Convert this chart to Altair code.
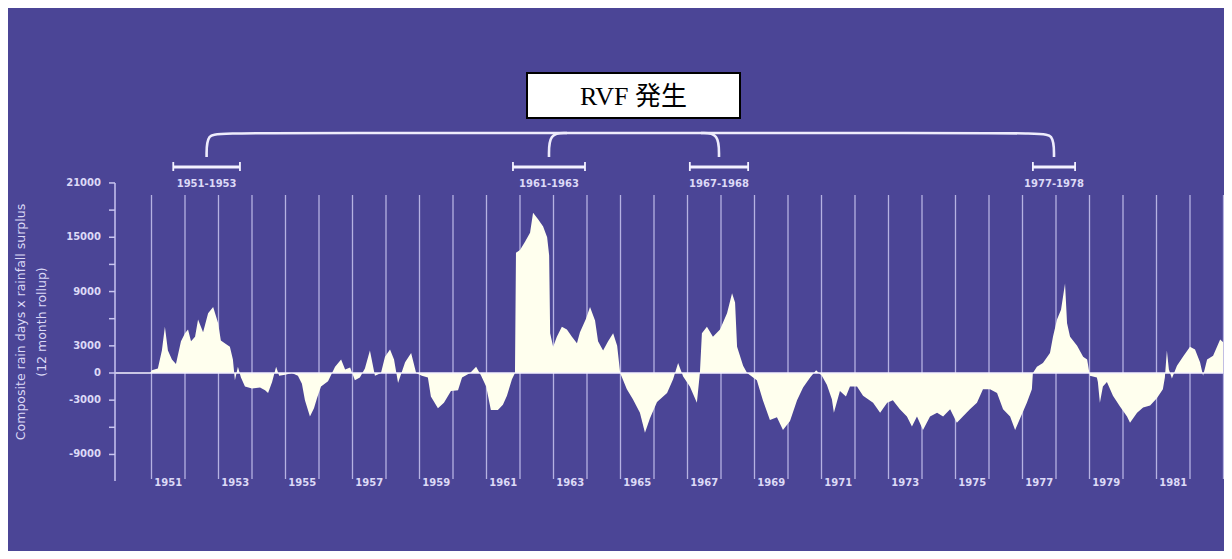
import altair as alt
import pandas as pd

# ---------------- data ----------------
years = [1950.00, 1950.96, 1951.01, 1951.19, 1951.31, 1951.40, 1951.49, 1951.61, 1951.73, 1951.88,
         1952.00, 1952.09, 1952.18, 1952.30, 1952.39, 1952.54, 1952.69, 1952.84, 1952.99, 1953.07,
         1953.22, 1953.34, 1953.43, 1953.49, 1953.58, 1953.67, 1953.79, 1954.00, 1954.24, 1954.39,
         1954.48, 1954.60, 1954.72, 1954.81, 1954.99, 1955.19, 1955.37, 1955.49, 1955.58, 1955.73,
         1955.85, 1955.94, 1956.06, 1956.27, 1956.48, 1956.66, 1956.78, 1956.93, 1957.07, 1957.22,
         1957.37, 1957.52, 1957.67, 1957.85, 1957.97, 1958.12, 1958.24, 1958.36, 1958.57, 1958.75,
         1958.90, 1959.07, 1959.25, 1959.34, 1959.55, 1959.73, 1959.94, 1960.15, 1960.27, 1960.51,
         1960.69, 1960.84, 1960.99, 1961.13, 1961.34, 1961.49, 1961.61, 1961.76, 1961.85, 1961.88,
         1962.00, 1962.15, 1962.30, 1962.39, 1962.54, 1962.69, 1962.81, 1962.87, 1962.90, 1962.99,
         1963.10, 1963.25, 1963.40, 1963.55, 1963.70, 1963.79, 1963.97, 1964.09, 1964.24, 1964.33,
         1964.48, 1964.63, 1964.78, 1964.90, 1964.99, 1965.19, 1965.37, 1965.58, 1965.73, 1965.88,
         1966.09, 1966.39, 1966.57, 1966.72, 1966.87, 1967.07, 1967.28, 1967.37, 1967.43, 1967.58,
         1967.76, 1967.97, 1968.18, 1968.33, 1968.42, 1968.48, 1968.66, 1968.78, 1969.07, 1969.25,
         1969.46, 1969.67, 1969.85, 1970.06, 1970.27, 1970.45, 1970.66, 1970.84, 1971.01, 1971.16,
         1971.31, 1971.37, 1971.55, 1971.73, 1971.85, 1972.06, 1972.24, 1972.54, 1972.75, 1972.96,
         1973.13, 1973.34, 1973.55, 1973.70, 1973.85, 1974.03, 1974.24, 1974.45, 1974.63, 1974.84,
         1975.04, 1975.22, 1975.43, 1975.64, 1975.82, 1976.03, 1976.24, 1976.42, 1976.63, 1976.78,
         1976.93, 1977.13, 1977.28, 1977.31, 1977.43, 1977.61, 1977.82, 1977.91, 1978.03, 1978.15,
         1978.27, 1978.33, 1978.42, 1978.63, 1978.81, 1978.93, 1979.01, 1979.22, 1979.25, 1979.31,
         1979.40, 1979.52, 1979.70, 1979.91, 1980.12, 1980.21, 1980.42, 1980.60, 1980.81, 1981.01,
         1981.19, 1981.25, 1981.31, 1981.37, 1981.46, 1981.61, 1981.79, 1982.00, 1982.15, 1982.30,
         1982.39, 1982.51, 1982.69, 1982.90, 1982.99]

values = [0, 0, 300, 500, 2500, 5100, 2500, 1500, 1000, 3500,
          4400, 4800, 3500, 4000, 5900, 4500, 6600, 7300, 5500, 3600,
          3200, 2900, 1500, -800, 700, -500, -1500, -1700, -1600, -1900,
          -2200, -1000, 700, -300, -200, 0, -300, -1200, -3000, -4800,
          -3900, -2800, -1500, -900, 700, 1500, 400, 600, -800, -500,
          500, 2500, -300, 0, 1800, 2600, 1500, -1100, 1200, 2200,
          0, -300, -500, -2600, -3900, -3300, -2000, -1900, -500, 0,
          700, -300, -1500, -4100, -4100, -3500, -2500, -700, 0, 13300,
          13600, 14500, 15500, 17700, 17000, 16200, 15000, 13000, 4400, 2900,
          4000, 5100, 4800, 4000, 3300, 4500, 6000, 7300, 5800, 3500,
          2500, 3500, 4400, 3000, 0, -1800, -2900, -4400, -6600, -5000,
          -3200, -2200, -700, 1100, -400, -1500, -3300, 0, 4400, 5100,
          4000, 4800, 6600, 8800, 7800, 2900, 800, 0, -800, -3000,
          -5200, -4900, -6300, -5300, -3000, -1600, -500, 300, -300, -1300,
          -2900, -4400, -2000, -2600, -1500, -1500, -2500, -3300, -4400, -3300,
          -3000, -4000, -4800, -5900, -4800, -6300, -4800, -4400, -4800, -4000,
          -5500, -4800, -4000, -3300, -1800, -1800, -2200, -4000, -4800, -6300,
          -5000, -3300, -1800, 0, 700, 1100, 2200, 4000, 5900, 7000,
          9900, 5500, 4000, 3000, 1800, 1500, -300, -500, -1000, -3300,
          -1500, -1000, -2500, -3700, -4800, -5500, -4400, -3800, -3600, -2800,
          -1800, -500, 2500, 400, -600, 800, 1800, 2900, 2600, 1200,
          -300, 1500, 1900, 3700, 3400]

grid_years = list(range(1951, 1984))
label_years = list(range(1951, 1982, 2))
y_tick_values = list(range(-9000, 21001, 3000))
y_label_values = [21000, 15000, 9000, 3000, 0, -3000, -9000]

bracket_labels = ["1951-1953", "1961-1963", "1967-1968", "1977-1978"]
bracket_start = [1951.65, 1961.79, 1967.07, 1977.31]
bracket_end = [1953.64, 1963.94, 1968.81, 1978.57]

box_text = "RVF 発生"
y_title_lines = ["Composite rain days x rainfall surplus", "(12 month rollup)"]

# ---------------- layout ----------------
BG = "#4B4596"
LAV = "#C9C5F0"
TXT = "#DCD9F6"
CREAM = "#FFFFEE"

W, H, LEFT = 1106, 543, 110
PX_YEAR = 33.5          # pixels per year
PX_K = 9.05             # pixels per 1000 units
ZERO_PY = 373 - 8       # zero line inside the plot (px from top)
XMAX = 1950 + W / PX_YEAR
YTOP = ZERO_PY / PX_K * 1000
YBOT = -(H - ZERO_PY) / PX_K * 1000


def xd(px):  # page px -> year
    return 1950 + (px - 118) / PX_YEAR


def yd(py):  # page px -> value
    return (373 - py) / PX_K * 1000


xs = alt.Scale(domain=[1950, XMAX], nice=False, zero=False)
ys = alt.Scale(domain=[YBOT, YTOP], nice=False, zero=False)


def X(f):
    return alt.X(f, type="quantitative", scale=xs, axis=None)


def X2(f):
    return alt.X2(f)


def Y(f):
    return alt.Y(f, type="quantitative", scale=ys, axis=None)


# ---------------- layers ----------------
series = pd.DataFrame({"t": years, "v": values})
series["z"] = 0

area = alt.Chart(series).mark_area(color=CREAM, opacity=1, interpolate="linear").encode(
    x=X("t"), y=Y("v"), y2=alt.Y2("z"))

grid_df = pd.DataFrame({"t": grid_years, "y1": yd(195), "y2": yd(479)})
grid = alt.Chart(grid_df).mark_rule(color=LAV, strokeWidth=1.3, opacity=0.85).encode(
    x=X("t"), y=Y("y1"), y2=alt.Y2("y2"))

AXIS_X = 1950 - 3 / PX_YEAR
zero_df = pd.DataFrame({"t1": [AXIS_X], "t2": [max(years)], "y": [0]})
zero = alt.Chart(zero_df).mark_rule(color="#F4F2FF", strokeWidth=1.5).encode(
    x=X("t1"), x2=X2("t2"), y=Y("y"))

axis_df = pd.DataFrame({"t": [AXIS_X], "y1": [max(y_tick_values)], "y2": [yd(481)]})
axis_line = alt.Chart(axis_df).mark_rule(color=LAV, strokeWidth=1.5).encode(
    x=X("t"), y=Y("y1"), y2=alt.Y2("y2"))

tick_df = pd.DataFrame({"y": y_tick_values})
tick_df["t1"] = AXIS_X - 6 / PX_YEAR
tick_df["t2"] = AXIS_X
ticks = alt.Chart(tick_df).mark_rule(color=LAV, strokeWidth=1.5).encode(
    x=X("t1"), x2=X2("t2"), y=Y("y"))

tl_df = pd.DataFrame({"y": y_label_values, "lab": [str(v) for v in y_label_values]})
tl_df["t"] = xd(101)
tick_labels = alt.Chart(tl_df).mark_text(color=TXT, font="DejaVu Sans", fontSize=10,
                                         fontWeight="bold", align="right",
                                         baseline="middle").encode(
    x=X("t"), y=Y("y"), text="lab:N")

ylab_df = pd.DataFrame({"t": [y + 0.5 for y in label_years], "y": yd(483),
                        "lab": [str(y) for y in label_years]})
year_labels = alt.Chart(ylab_df).mark_text(color=TXT, font="DejaVu Sans", fontSize=10,
                                           fontWeight="bold", baseline="middle").encode(
    x=X("t"), y=Y("y"), text="lab:N")

br = pd.DataFrame({"s": bracket_start, "e": bracket_end, "lab": bracket_labels})
br["c"] = (br["s"] + br["e"]) / 2
br["yb"] = yd(167)
br["yc1"] = yd(162)
br["yc2"] = yd(171)
br["yl"] = yd(184)
bar = alt.Chart(br).mark_rule(color="#F4F2FF", strokeWidth=3).encode(
    x=X("s"), x2=X2("e"), y=Y("yb"))
cap_l = alt.Chart(br).mark_rule(color="#F4F2FF", strokeWidth=1.8).encode(
    x=X("s"), y=Y("yc1"), y2=alt.Y2("yc2"))
cap_r = alt.Chart(br).mark_rule(color="#F4F2FF", strokeWidth=1.8).encode(
    x=X("e"), y=Y("yc1"), y2=alt.Y2("yc2"))
br_lab = alt.Chart(br).mark_text(color=TXT, font="DejaVu Sans", fontSize=10,
                                 fontWeight="bold", baseline="middle").encode(
    x=X("c"), y=Y("yl"), text="lab:N")

# connector brace
c = list(br["c"])
yh, ydrop = yd(133), yd(157)
r = 18 / PX_YEAR
paths = [
    [(c[0], ydrop), (c[0], yh), (c[0] + r, yh), (c[3] - r, yh), (c[3], yh), (c[3], ydrop)],
    [(c[1], ydrop), (c[1], yh), (c[1] + r, yh)],
    [(c[2] - r, yh), (c[2], yh), (c[2], ydrop)],
]
rows = []
for i, p in enumerate(paths):
    for j, (px, py) in enumerate(p):
        rows.append({"id": i, "o": j, "t": px, "y": py})
conn = alt.Chart(pd.DataFrame(rows)).mark_line(color="#EEECFC", strokeWidth=2.6,
                                                 interpolate="basis").encode(
    x=X("t"), y=Y("y"), detail="id:N", order="o:Q")

# RVF box
box_df = pd.DataFrame({"x1": [xd(527)], "x2": [xd(740)], "y1": [yd(73)], "y2": [yd(118)],
                       "tx": [xd(633.5)], "ty": [yd(97)], "lab": [box_text]})
box = alt.Chart(box_df).mark_rect(fill="white", stroke="black", strokeWidth=2).encode(
    x=X("x1"), x2=X2("x2"), y=Y("y1"), y2=alt.Y2("y2"))
box_txt = alt.Chart(box_df).mark_text(color="black", font="Liberation Serif, Noto Sans CJK JP",
                                      fontSize=26, baseline="middle").encode(
    x=X("tx"), y=Y("ty"), text="lab:N")

# y title (two rotated lines)
yt_df = pd.DataFrame({"t": [xd(21), xd(42)], "y": [yd(322), yd(322)], "lab": y_title_lines})
ytitle = alt.Chart(yt_df).mark_text(color=TXT, font="DejaVu Sans", fontSize=12.5, angle=270,
                                    baseline="middle", align="center").encode(
    x=X("t"), y=Y("y"), text="lab:N")

chart = alt.layer(
    grid, area, zero, axis_line, ticks, tick_labels, year_labels, bar, cap_l, cap_r, br_lab,
    conn, box, box_txt, ytitle
).properties(
    width=W, height=H,
    padding={"left": LEFT, "top": 0, "right": 0, "bottom": 0},
    autosize=alt.AutoSizeParams(type="none"),
    background=BG,
).configure_view(stroke=None)

chart.save("out.html", embed_options={"renderer": "svg", "actions": False})
